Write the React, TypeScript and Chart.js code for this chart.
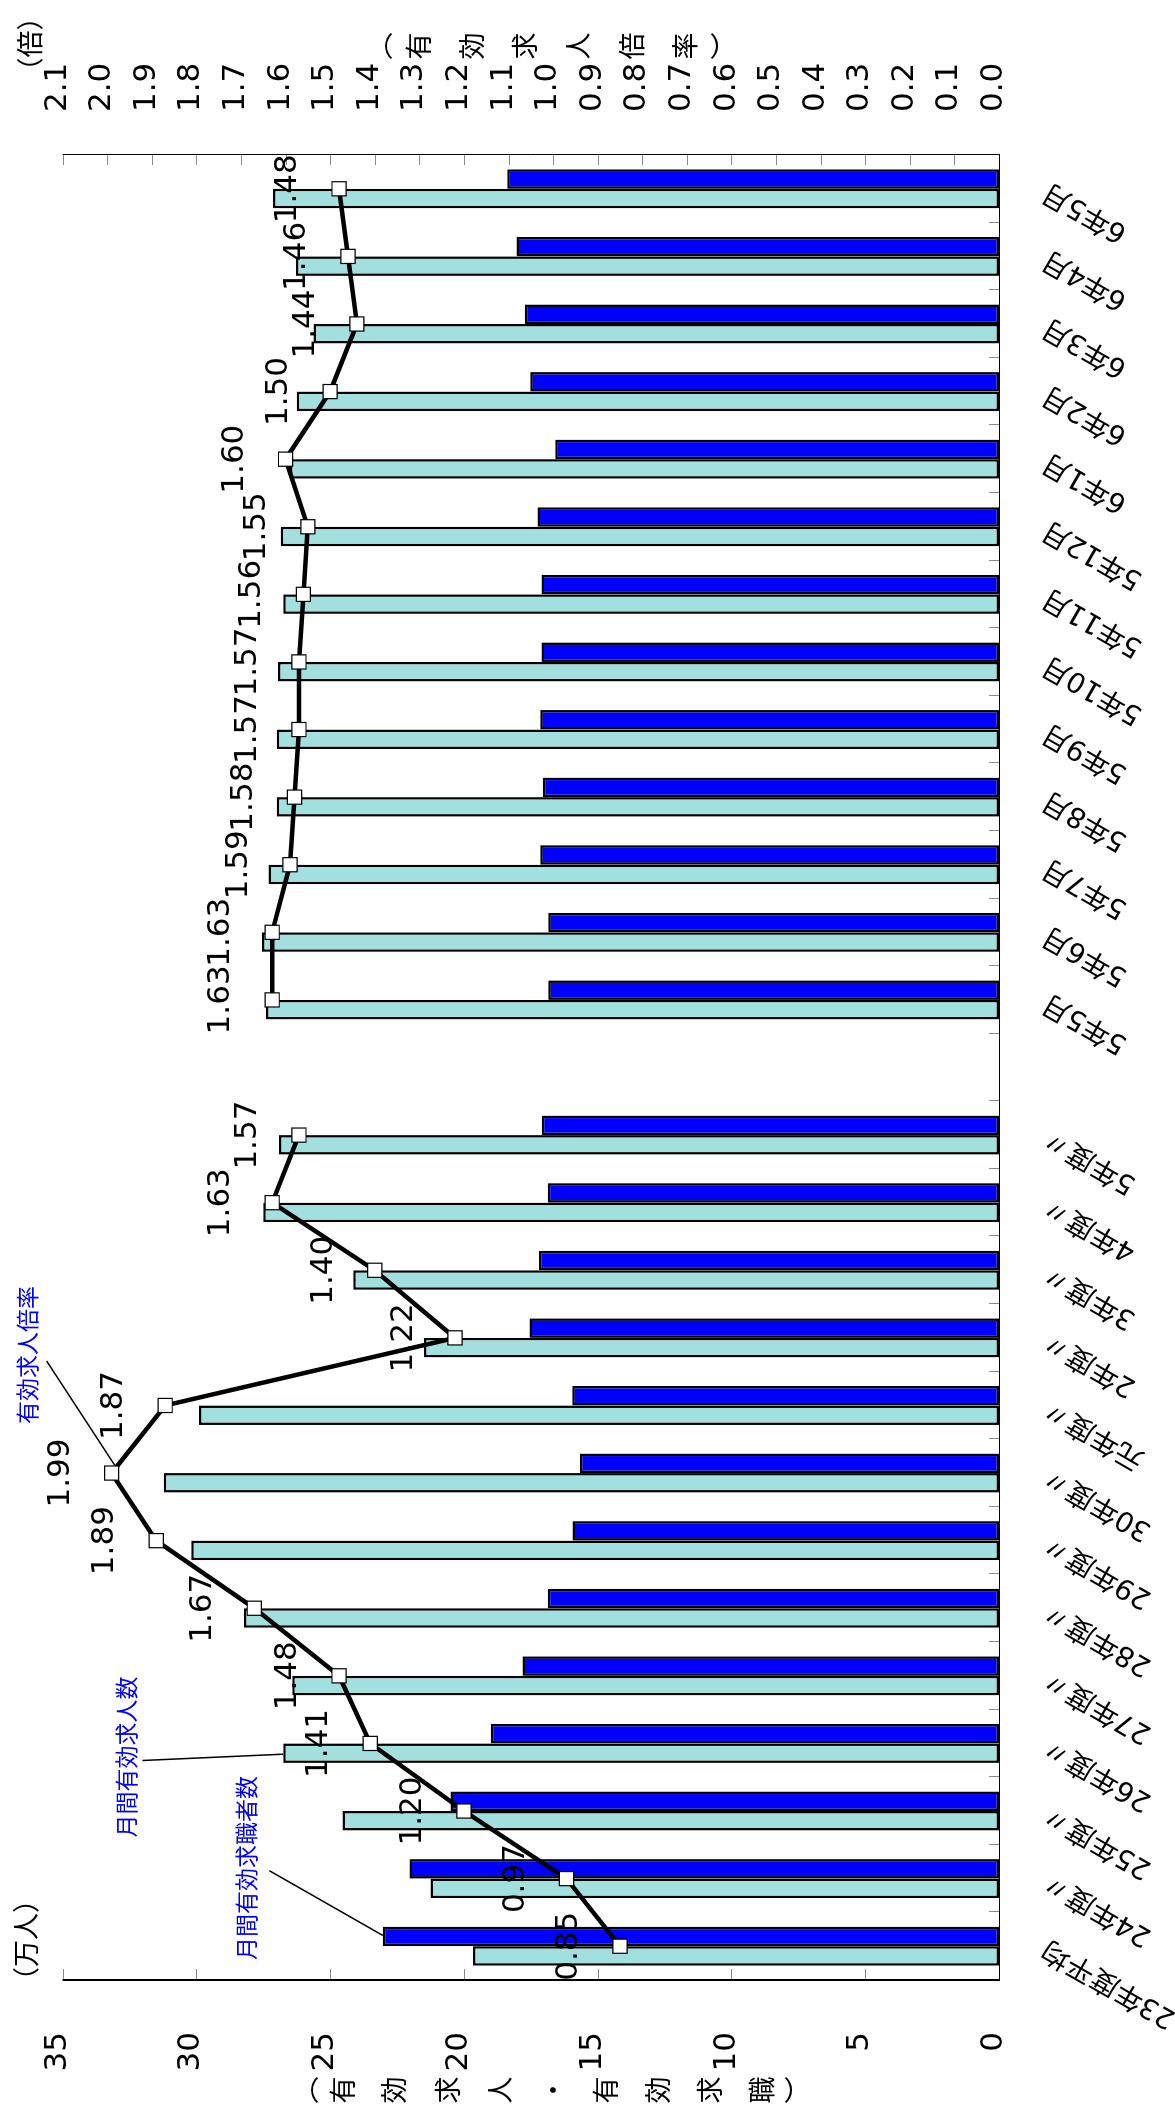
import React, { useEffect, useRef } from 'react';
import { Chart, registerables } from 'chart.js';

Chart.register(...registerables);

// The chart is drawn upright (categories along the bottom) and the canvas is turned 90° counter-clockwise.
const CANVAS_W = 2118;
const CANVAS_H = 1175;

const categories = [
  '23年度平均', '24年度〃', '25年度〃', '26年度〃', '27年度〃', '28年度〃', '29年度〃', '30年度〃',
  '元年度〃', '2年度〃', '3年度〃', '4年度〃', '5年度〃', '',
  '5年5月', '5年6月', '5年7月', '5年8月', '5年9月', '5年10月', '5年11月', '5年12月',
  '6年1月', '6年2月', '6年3月', '6年4月', '6年5月',
];

// 月間有効求人数 (万人)
const jobOffers = [
  19.66, 21.25, 24.54, 26.75, 26.42, 28.22, 30.19, 31.22, 29.90, 21.49, 24.14, 27.50, 26.91, null,
  27.40, 27.55, 27.30, 27.00, 27.00, 26.95, 26.75, 26.85, 26.50, 26.25, 25.62, 26.28, 27.14,
];

// 月間有効求職者数 (万人)
const jobSeekers = [
  23.03, 22.03, 20.50, 19.00, 17.81, 16.87, 15.94, 15.66, 15.95, 17.55, 17.19, 16.87, 17.09, null,
  16.85, 16.85, 17.15, 17.05, 17.15, 17.10, 17.10, 17.25, 16.59, 17.52, 17.73, 18.03, 18.38,
];

// 有効求人倍率 (倍)
const openingsRatio = [
  0.85, 0.97, 1.20, 1.41, 1.48, 1.67, 1.89, 1.99, 1.87, 1.22, 1.40, 1.63, 1.57, null,
  1.63, 1.63, 1.59, 1.58, 1.57, 1.57, 1.56, 1.55, 1.60, 1.50, 1.44, 1.46, 1.48,
];

const leftTitleChars = ['︵', '有', '効', '求', '人', '・', '有', '効', '求', '職', '︶'];
const rightTitleChars = ['︵', '有', '効', '求', '人', '倍', '率', '︶'];

const NUM_FONT = '"DejaVu Sans", sans-serif';
const CJK_FONT = '"Noto Sans CJK JP", sans-serif';
const LABEL_FONT = '"DejaVu Sans", "Noto Sans CJK JP", sans-serif';

// layout of the hand-placed texts (upright canvas coordinates)
const LEFT_TITLE_X = 28;
const LEFT_TITLE_Y = [306, 342.5, 394.2, 447.8, 499.4, 553, 605.3, 657.6, 709.9, 762.2, 798];
const RIGHT_TITLE_X = 2072;
const RIGHT_TITLE_Y = [380, 419, 472, 525, 578, 632, 685, 724];

const decorPlugin = {
  id: 'decor',
  beforeDraw(chart: any) {
    const { ctx, width, height } = chart;
    ctx.save();
    ctx.fillStyle = '#ffffff';
    ctx.fillRect(0, 0, width, height);
    ctx.restore();
  },
  beforeDatasetsDraw(chart: any) {
    const { ctx, chartArea: a, scales } = chart;
    const yL = scales.y;
    const yR = scales.y1;
    const x = scales.x;
    ctx.save();
    // inward tick marks
    ctx.strokeStyle = '#8a8a8a';
    ctx.lineWidth = 1;
    ctx.beginPath();
    yL.ticks.forEach((t: any) => {
      const p = Math.round(yL.getPixelForValue(t.value)) + 0.5;
      ctx.moveTo(a.left, p);
      ctx.lineTo(a.left + 11, p);
    });
    yR.ticks.forEach((t: any) => {
      const p = Math.round(yR.getPixelForValue(t.value)) + 0.5;
      ctx.moveTo(a.right, p);
      ctx.lineTo(a.right - 10, p);
    });
    for (let i = 1; i < x.ticks.length; i++) {
      const b = Math.round((x.getPixelForValue(i - 1) + x.getPixelForValue(i)) / 2) + 0.5;
      ctx.moveTo(b, a.bottom);
      ctx.lineTo(b, a.bottom - 10);
    }
    ctx.stroke();

    // axis lines
    ctx.strokeStyle = '#000000';
    ctx.lineWidth = 2;
    ctx.beginPath();
    ctx.moveTo(a.left, a.top);
    ctx.lineTo(a.left, a.bottom + 1);
    ctx.stroke();
    ctx.lineWidth = 1;
    ctx.beginPath();
    ctx.moveTo(a.right + 0.5, a.top);
    ctx.lineTo(a.right + 0.5, a.bottom);
    ctx.moveTo(a.left, a.bottom + 0.5);
    ctx.lineTo(a.right + 1, a.bottom + 0.5);
    ctx.stroke();

    // leader lines of the callouts
    const offerBar = chart.getDatasetMeta(0).data[3];
    const seekerBar = chart.getDatasetMeta(1).data[0];
    const peakPt = chart.getDatasetMeta(2).data[7];
    ctx.lineWidth = 1.5;
    ctx.beginPath();
    ctx.moveTo(757, 46.7);
    ctx.lineTo(peakPt.x + 8, peakPt.y + 3);
    ctx.moveTo(357.5, 142.4);
    ctx.lineTo(offerBar.x - 1, offerBar.y);
    ctx.moveTo(247.3, 269.3);
    ctx.lineTo(seekerBar.x + 1, seekerBar.y);
    ctx.stroke();
    ctx.restore();
  },
  afterDatasetsDraw(chart: any) {
    const { ctx } = chart;
    const meta = chart.getDatasetMeta(2);
    ctx.save();
    ctx.fillStyle = '#000000';
    ctx.textAlign = 'center';
    ctx.textBaseline = 'middle';
    ctx.font = `31px ${NUM_FONT}`;
    meta.data.forEach((pt: any, i: number) => {
      const v = openingsRatio[i];
      if (v == null) return;
      ctx.fillText(v.toFixed(2), pt.x, pt.y - 51);
    });

    // callout texts
    ctx.fillStyle = '#0000ff';
    ctx.font = `23px ${CJK_FONT}`;
    ctx.fillText('有効求人倍率', 763, 27.5);
    ctx.fillText('月間有効求人数', 361, 126);
    ctx.fillText('月間有効求職者数', 250, 246);

    // axis titles
    ctx.fillStyle = '#000000';
    ctx.font = `27px ${CJK_FONT}`;
    ctx.fillText('（万人）', 178, 26);
    ctx.fillText('（倍）', 2074, 30);
    leftTitleChars.forEach((c, i) => ctx.fillText(c, LEFT_TITLE_X, LEFT_TITLE_Y[i]));
    rightTitleChars.forEach((c, i) => ctx.fillText(c, RIGHT_TITLE_X, RIGHT_TITLE_Y[i]));
    ctx.restore();
  },
};

export default function App() {
  const canvasRef = useRef<HTMLCanvasElement>(null);

  useEffect(() => {
    const canvas = canvasRef.current;
    if (!canvas) return;
    const chart = new Chart(canvas, {
      type: 'bar',
      data: {
        labels: categories,
        datasets: [
          {
            label: '月間有効求人数',
            data: jobOffers,
            backgroundColor: '#a2dfdf',
            borderColor: '#000000',
            borderWidth: 2.5,
            borderSkipped: false,
            yAxisID: 'y',
            categoryPercentage: 0.577,
            barPercentage: 1,
            order: 1,
          },
          {
            label: '月間有効求職者数',
            data: jobSeekers,
            backgroundColor: '#0000ff',
            borderColor: '#000000',
            borderWidth: 2.5,
            borderSkipped: false,
            yAxisID: 'y',
            categoryPercentage: 0.577,
            barPercentage: 1,
            order: 1,
          },
          {
            type: 'line',
            label: '有効求人倍率',
            data: openingsRatio,
            yAxisID: 'y1',
            borderColor: '#000000',
            borderWidth: 4.5,
            tension: 0,
            spanGaps: false,
            pointStyle: 'rect',
            pointRadius: 10,
            pointBackgroundColor: '#ffffff',
            pointBorderColor: '#000000',
            pointBorderWidth: 1.2,
            order: 0,
          } as any,
        ],
      },
      options: {
        animation: false,
        responsive: false,
        devicePixelRatio: 1,
        layout: { padding: { top: 62, left: 0, right: 0, bottom: 0 } },
        plugins: { legend: { display: false }, tooltip: { enabled: false } },
        scales: {
          x: {
            grid: { display: false },
            border: { display: false },
            ticks: {
              autoSkip: false,
              minRotation: 60,
              maxRotation: 60,
              padding: 30,
              color: '#000000',
              font: { size: 28, family: LABEL_FONT },
            },
            afterFit: (s: any) => { s.height = 176; },
          },
          y: {
            position: 'left',
            min: 0,
            max: 35,
            grid: { display: false },
            border: { display: false },
            ticks: {
              stepSize: 5,
              autoSkip: false,
              padding: 44,
              labelOffset: -5,
              color: '#000000',
              font: { size: 31, family: NUM_FONT },
            },
            afterFit: (s: any) => { s.width = 138; },
          },
          y1: {
            position: 'right',
            min: 0,
            max: 2.1,
            grid: { display: false },
            border: { display: false },
            ticks: {
              stepSize: 0.1,
              autoSkip: false,
              padding: 35,
              labelOffset: -5,
              color: '#000000',
              font: { size: 31, family: NUM_FONT },
              callback: (v: any) => Number(v).toFixed(1),
            },
            afterFit: (s: any) => { s.width = 155; },
          },
        },
      } as any,
      plugins: [decorPlugin],
    });
    return () => chart.destroy();
  }, []);

  return (
    <div
      style={{
        position: 'fixed',
        left: 0,
        top: 0,
        width: CANVAS_H,
        height: CANVAS_W,
        overflow: 'hidden',
        background: '#ffffff',
      }}
    >
      <canvas
        ref={canvasRef}
        width={CANVAS_W}
        height={CANVAS_H}
        style={{
          position: 'absolute',
          left: 0,
          top: 0,
          width: CANVAS_W,
          height: CANVAS_H,
          transformOrigin: '0 0',
          transform: `translate(0px, ${CANVAS_W}px) rotate(-90deg)`,
        }}
      />
    </div>
  );
}
